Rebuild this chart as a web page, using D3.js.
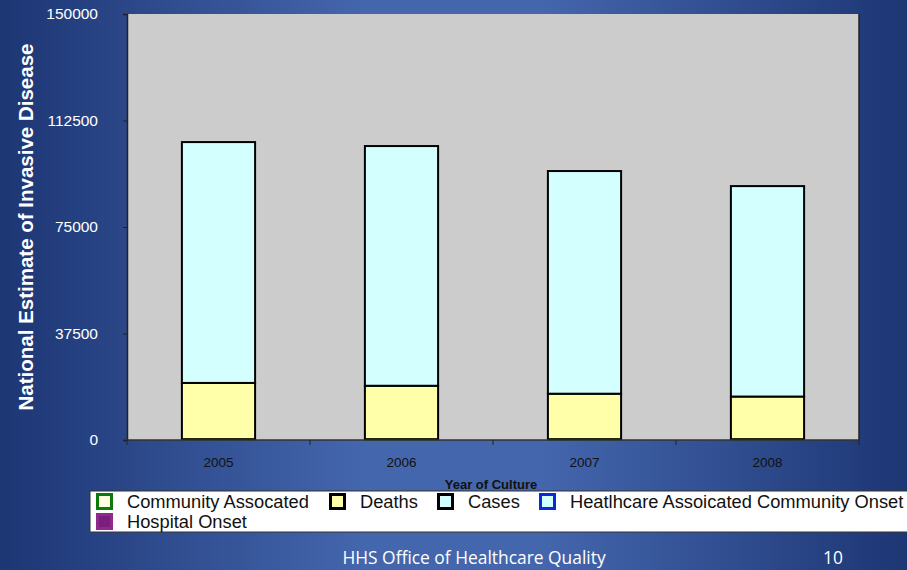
<!DOCTYPE html>
<html>
<head>
<meta charset="utf-8">
<script src="https://cdn.jsdelivr.net/npm/d3@7"></script>
<style>
  body { margin: 0; padding: 0; overflow: hidden; }
  svg { display: block; }
</style>
</head>
<body>
<div class="chart"></div>
<script>
// stacked bars: national estimate of invasive disease by year of culture
var years = ["2005", "2006", "2007", "2008"];
var communityAssociated = [300, 300, 300, 300];
var deaths = [19800, 18800, 16000, 15000];
var cases = [84800, 84400, 78400, 74100];
var healthcareCommunity = [0, 0, 0, 0];
var hospitalOnset = [0, 0, 0, 0];
var yTicks = [0, 37500, 75000, 112500, 150000];

var seriesNames = ["Community Assocated", "Deaths", "Cases", "Heatlhcare Assoicated Community Onset", "Hospital Onset"];
var seriesFill = ["#fffde0", "#ffffaa", "#d4ffff", "#d4ffff", "#7a1f7e"];
var seriesStroke = ["#0a7a0a", "#000", "#000", "#0a2ad8", "#8e2a8e"];

var svgWidth = 907;
var svgHeight = 570;
var margin = { top: 14, right: 48, bottom: 130, left: 127 };
var width = svgWidth - margin.left - margin.right;
var height = svgHeight - margin.top - margin.bottom;

var font = "'Liberation Sans', Arial, sans-serif";

var svg = d3.select(".chart").append("svg")
  .attr("width", svgWidth)
  .attr("height", svgHeight);

// slide background gradient
var defs = svg.append("defs");
var grad = defs.append("linearGradient").attr("id", "bg")
  .attr("x1", "0%").attr("y1", "0%").attr("x2", "100%").attr("y2", "0%");
grad.append("stop").attr("offset", "0%").attr("stop-color", "#1d3674");
grad.append("stop").attr("offset", "40%").attr("stop-color", "#4466ad");
grad.append("stop").attr("offset", "60%").attr("stop-color", "#4466ad");
grad.append("stop").attr("offset", "100%").attr("stop-color", "#1d3674");
svg.append("rect").attr("width", svgWidth).attr("height", svgHeight).attr("fill", "url(#bg)");

var chart = svg.append("g")
  .attr("transform", "translate(" + margin.left + "," + margin.top + ")");

var x = d3.scaleBand().domain(years).range([0, width]).paddingInner(0.6).paddingOuter(0.3);
var xTickScale = d3.scaleLinear().domain([0, years.length]).range([0, width]);
var y = d3.scaleLinear().domain([0, 150000]).range([height, 0]);

// plot area
chart.append("rect")
  .attr("width", width).attr("height", height)
  .attr("fill", "#cccccc");
chart.append("line")
  .attr("x1", width).attr("x2", width).attr("y1", 0).attr("y2", height)
  .attr("stroke", "#222").attr("stroke-width", 1.5);

// stacked bars
var table = years.map(function(yr, i) {
  return { year: yr, s0: communityAssociated[i], s1: deaths[i], s2: cases[i], s3: healthcareCommunity[i], s4: hospitalOnset[i] };
});
var stack = d3.stack().keys(["s0", "s1", "s2", "s3", "s4"]);
var layers = stack(table);

layers.forEach(function(layer, k) {
  chart.append("g").selectAll("rect").data(layer).enter().append("rect")
    .filter(function(d) { return d[1] - d[0] > 0; })
    .attr("x", function(d) { return x(d.data.year); })
    .attr("width", x.bandwidth())
    .attr("y", function(d) { return y(d[1]); })
    .attr("height", function(d) { return y(d[0]) - y(d[1]); })
    .attr("fill", seriesFill[k])
    .attr("stroke", seriesStroke[k])
    .attr("stroke-width", k === 0 ? 1 : 2);
});

// y axis
var leftAxis = d3.axisLeft(y).tickValues(yTicks).tickSize(4).tickFormat(d3.format("d"));
var yAxisG = chart.append("g").call(leftAxis);
yAxisG.select(".domain").attr("stroke", "#222").attr("stroke-width", 1.5);
yAxisG.selectAll(".tick line").attr("stroke", "#222");
yAxisG.selectAll("text")
  .attr("x", -29)
  .attr("fill", "#fff")
  .style("font-family", font)
  .style("font-size", "15.5px");

// x axis: ticks at band boundaries
var xAxisG = chart.append("g").attr("transform", "translate(0," + height + ")");
xAxisG.append("line").attr("x1", 0).attr("x2", width)
  .attr("stroke", "#333").attr("stroke-width", 1.5);
xAxisG.selectAll(".xtick").data(d3.range(years.length + 1)).enter().append("line")
  .attr("x1", function(d) { return xTickScale(d); })
  .attr("x2", function(d) { return xTickScale(d); })
  .attr("y1", 0).attr("y2", 5)
  .attr("stroke", "#222");
xAxisG.selectAll(".xlab").data(years).enter().append("text")
  .attr("x", function(d) { return x(d) + x.bandwidth() / 2; })
  .attr("y", 27)
  .attr("text-anchor", "middle")
  .attr("fill", "#111")
  .style("font-family", font)
  .style("font-size", "13.5px")
  .text(function(d) { return d; });

chart.append("text")
  .attr("x", width / 2 - 2)
  .attr("y", height + 49)
  .attr("text-anchor", "middle")
  .attr("fill", "#111")
  .style("font-family", font)
  .style("font-size", "13px")
  .style("font-weight", "bold")
  .text("Year of Culture");

svg.append("text")
  .attr("transform", "translate(33," + 227 + ") rotate(-90)")
  .attr("text-anchor", "middle")
  .attr("fill", "#fff")
  .style("font-family", font)
  .style("font-size", "20.5px")
  .style("font-weight", "bold")
  .text("National Estimate of Invasive Disease");

// legend
var legend = svg.append("g");
legend.append("rect")
  .attr("x", 90).attr("y", 491).attr("width", 830).attr("height", 41)
  .attr("fill", "#fff").attr("stroke", "#333").attr("stroke-width", 1);
var legendPos = [[96, 501], [329, 501], [437, 501], [539, 501], [96, 521]];
seriesNames.forEach(function(name, k) {
  var p = legendPos[k];
  legend.append("rect")
    .attr("x", p[0] + 1.5).attr("y", p[1] - 6.5)
    .attr("width", 14).attr("height", 14)
    .attr("fill", seriesFill[k])
    .attr("stroke", seriesStroke[k])
    .attr("stroke-width", 3);
  legend.append("text")
    .attr("x", p[0] + 31).attr("y", p[1] + 7)
    .attr("fill", "#111")
    .style("font-family", font)
    .style("font-size", "18.3px")
    .text(name);
});

// footer
svg.append("text")
  .attr("x", 474).attr("y", 564)
  .attr("text-anchor", "middle")
  .attr("fill", "#fff")
  .style("font-family", "'Open Sans', sans-serif")
  .style("font-size", "17.4px")
  .text("HHS Office of Healthcare Quality");
svg.append("text")
  .attr("x", 833).attr("y", 564)
  .attr("text-anchor", "middle")
  .attr("fill", "#fff")
  .style("font-family", "'Open Sans', sans-serif")
  .style("font-size", "17.4px")
  .text("10");
</script>
</body>
</html>
